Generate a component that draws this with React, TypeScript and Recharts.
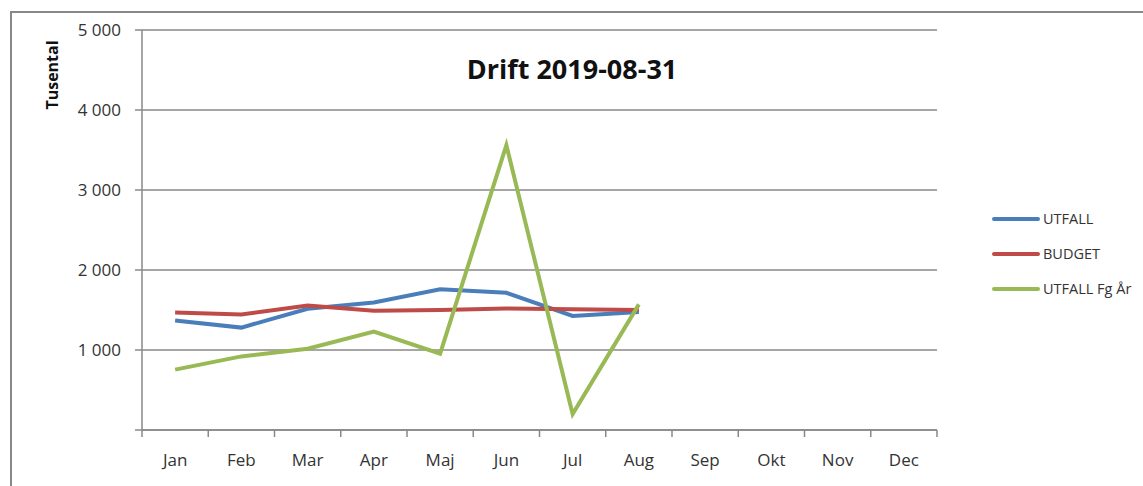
import { LineChart, Line, XAxis, YAxis, CartesianGrid, Legend } from "recharts";

if (typeof document !== "undefined") document.body.style.margin = "0";

const MONTHS = ["Jan", "Feb", "Mar", "Apr", "Maj", "Jun", "Jul", "Aug", "Sep", "Okt", "Nov", "Dec"];
const UTFALL = [1370, 1280, 1515, 1595, 1760, 1715, 1425, 1475];
const BUDGET = [1470, 1445, 1555, 1490, 1500, 1520, 1510, 1500];
const UTFALL_FG_AR = [755, 920, 1015, 1230, 955, 3560, 200, 1570];
const Y_TICKS = [0, 1000, 2000, 3000, 4000, 5000];

const SERIES = [
  { key: "UTFALL", color: "#4a7ebb" },
  { key: "BUDGET", color: "#be4b48" },
  { key: "UTFALL Fg År", color: "#98b954" },
];

const data = MONTHS.map((month, i) => ({
  month,
  UTFALL: UTFALL[i] ?? null,
  BUDGET: BUDGET[i] ?? null,
  "UTFALL Fg År": UTFALL_FG_AR[i] ?? null,
}));

const FONT = "'Open Sans', sans-serif";
const AXIS = "#888888";

const fmt = (v: number) => (v === 0 ? "" : String(v).replace(/\B(?=(\d{3})+(?!\d))/g, " "));

// month label + tick marks on the band edges (Excel style)
function MonthTick({ x, y, payload, index }: any) {
  const half = payload?.offset ?? 0;
  const last = index === MONTHS.length - 1;
  return (
    <g>
      <line x1={x - half} x2={x - half} y1={y} y2={y + 7} stroke={AXIS} strokeWidth={1.5} />
      {last && <line x1={x + half} x2={x + half} y1={y} y2={y + 7} stroke={AXIS} strokeWidth={1.5} />}
      <text x={x} y={y + 36} textAnchor="middle" fill="#333" fontSize={17} fontFamily={FONT}>
        {payload.value}
      </text>
    </g>
  );
}

function LegendBox() {
  return (
    <div style={{ fontFamily: FONT, fontSize: 14.5, color: "#333" }}>
      {SERIES.map((s) => (
        <div key={s.key} style={{ display: "flex", alignItems: "center", height: 35 }}>
          <span
            style={{
              display: "inline-block",
              width: 48,
              height: 4,
              borderRadius: 2,
              background: s.color,
              marginRight: 3,
            }}
          />
          <span>{s.key}</span>
        </div>
      ))}
    </div>
  );
}

export default function App() {
  return (
    <div style={{ position: "relative", width: 1143, height: 486, overflow: "hidden", background: "#fff" }}>
      <div
        style={{
          position: "absolute",
          left: 10,
          top: 11,
          width: 1200,
          height: 600,
          border: `2px solid ${AXIS}`,
        }}
      />
      <div
        style={{
          position: "absolute",
          left: 372,
          width: 400,
          top: 50,
          textAlign: "center",
          fontFamily: FONT,
          fontWeight: 700,
          fontSize: 27,
          color: "#111",
        }}
      >
        Drift 2019-08-31
      </div>
      <div
        style={{
          position: "absolute",
          left: 52,
          top: 75,
          transform: "translate(-50%, -50%) rotate(-90deg)",
          fontFamily: FONT,
          fontWeight: 700,
          fontSize: 16,
          color: "#111",
          whiteSpace: "nowrap",
        }}
      >
        Tusental
      </div>
      <LineChart width={1143} height={486} data={data} margin={{ top: 30, right: 206, bottom: 26, left: 0 }}>
        <CartesianGrid vertical={false} stroke={AXIS} strokeWidth={1.5} />
        <XAxis
          dataKey="month"
          scale="band"
          axisLine={{ stroke: AXIS, strokeWidth: 1.5 }}
          tickLine={false}
          tickSize={0}
          tickMargin={0}
          height={30}
          interval={0}
          tick={<MonthTick />}
        />
        <YAxis
          width={142}
          domain={[0, 5000]}
          ticks={Y_TICKS}
          tickFormatter={fmt}
          tickSize={7}
          tickMargin={14}
          axisLine={{ stroke: AXIS, strokeWidth: 1.5 }}
          tickLine={{ stroke: AXIS, strokeWidth: 1.5 }}
          tick={{ fill: "#333", fontSize: 17, fontFamily: FONT }}
        />
        <Legend
          layout="vertical"
          align="center"
          verticalAlign="middle"
          wrapperStyle={{ left: 992, top: 201, width: 150 }}
          content={<LegendBox />}
        />
        {SERIES.map((s) => (
          <Line
            key={s.key}
            type="linear"
            dataKey={s.key}
            name={s.key}
            stroke={s.color}
            strokeWidth={4}
            dot={false}
            activeDot={false}
            isAnimationActive={false}
          />
        ))}
      </LineChart>
    </div>
  );
}
